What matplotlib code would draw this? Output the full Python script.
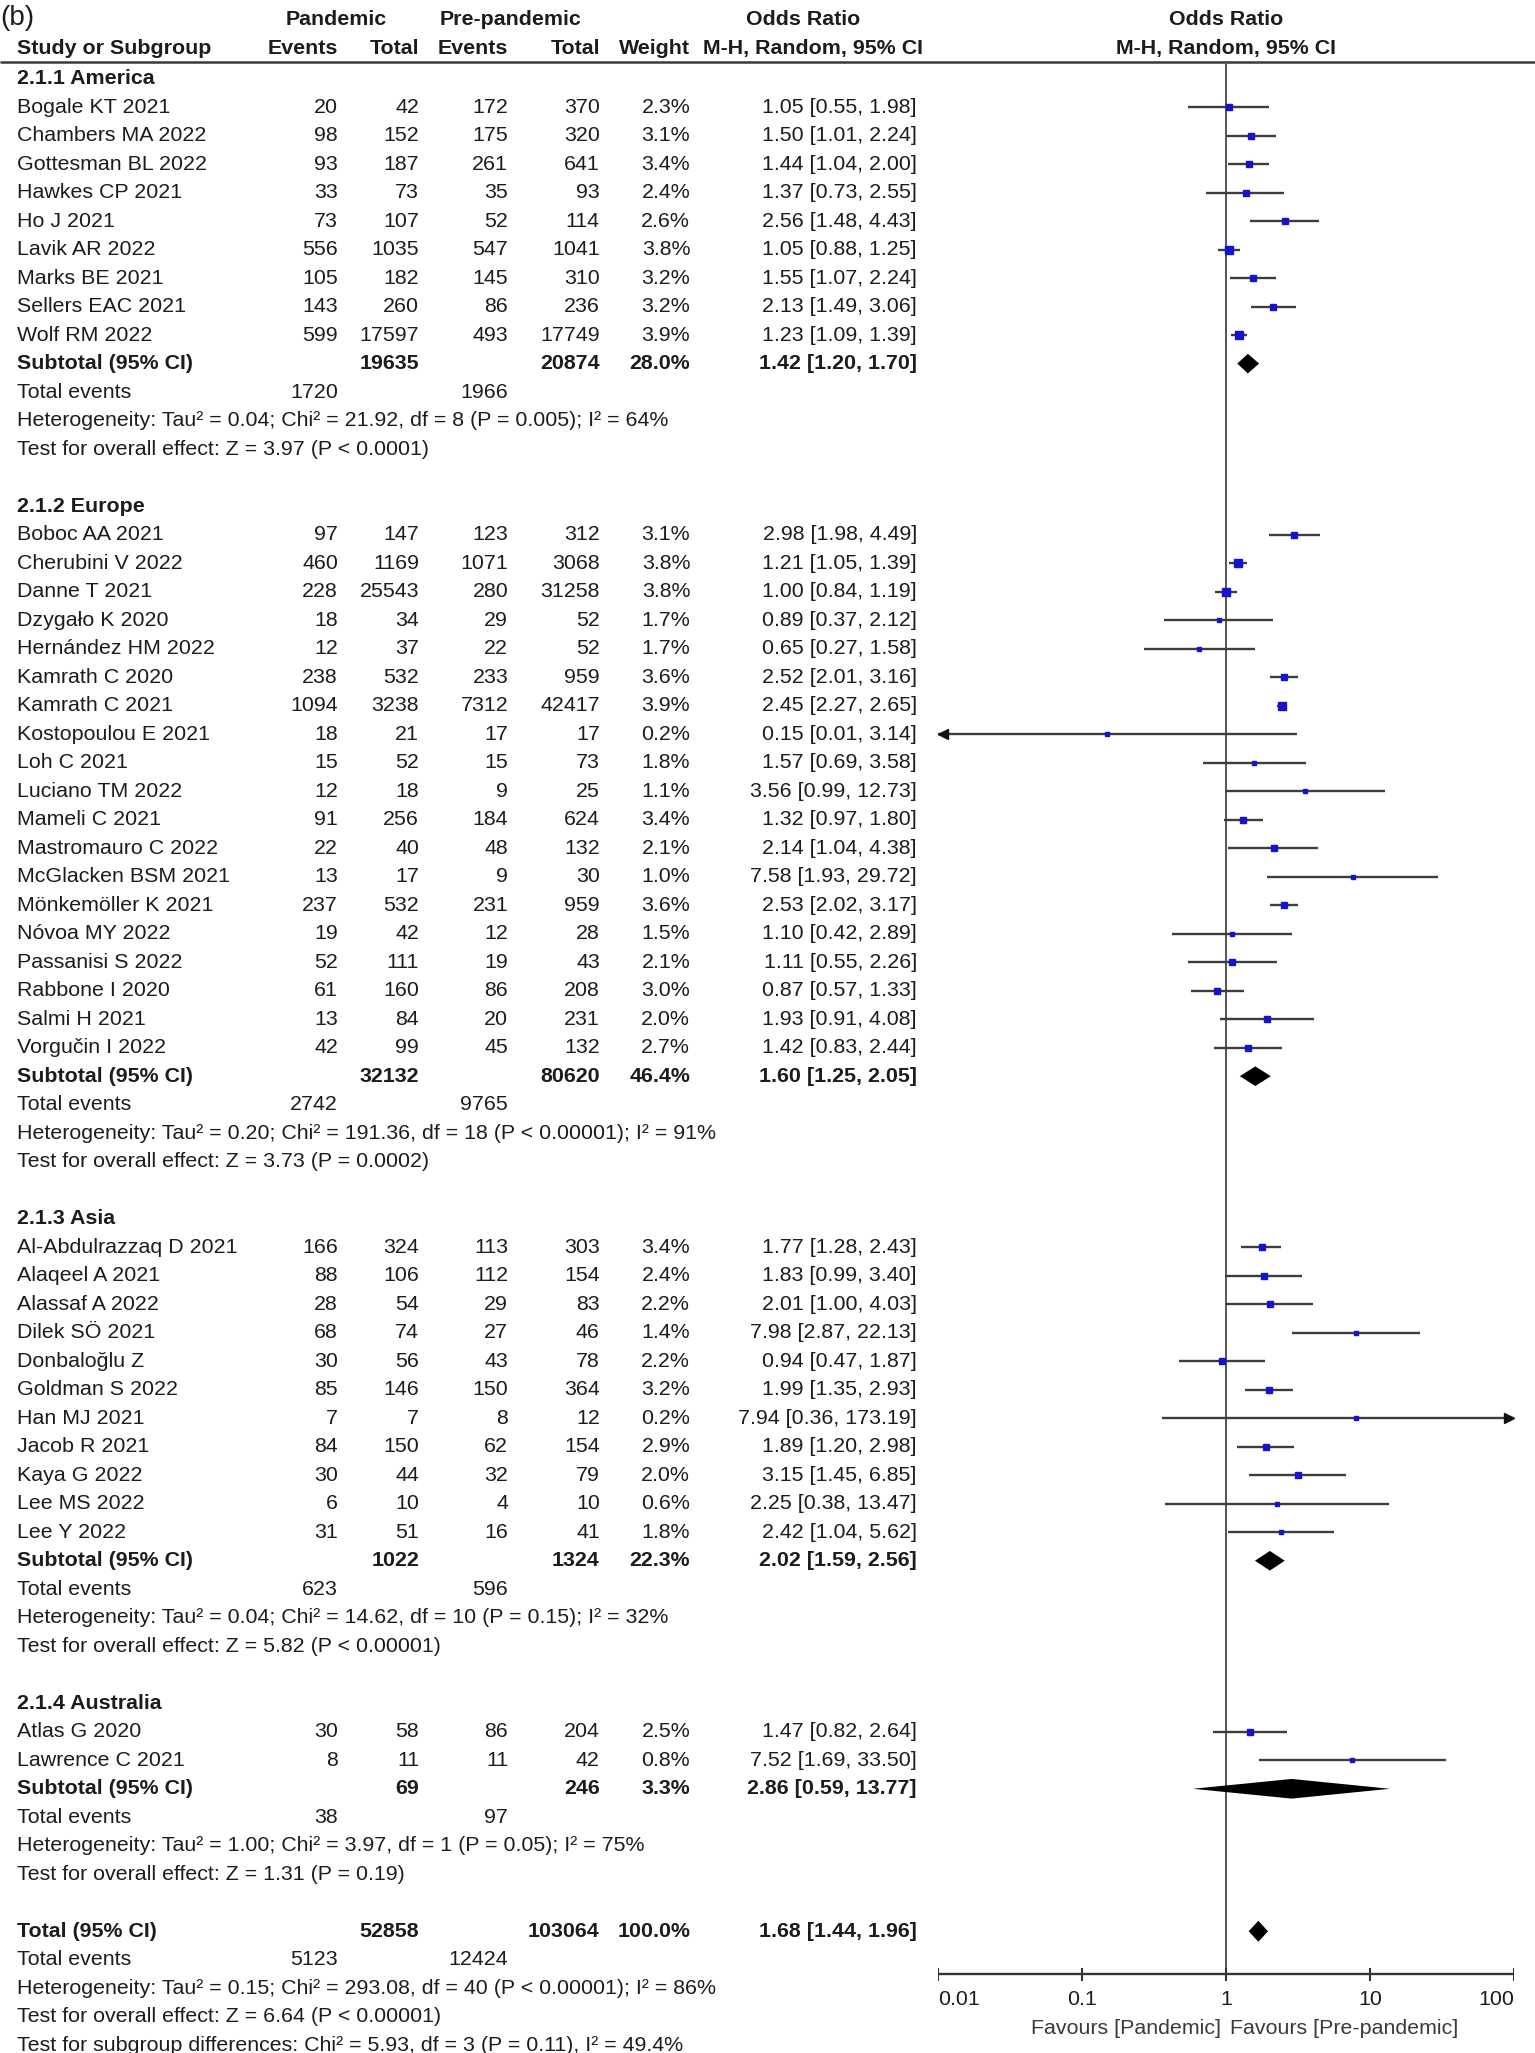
import matplotlib
matplotlib.use("Agg")
import matplotlib.pyplot as plt

# ---------------- data ----------------
america_studies = ["Bogale KT 2021", "Chambers MA 2022", "Gottesman BL 2022", "Hawkes CP 2021", "Ho J 2021",
                   "Lavik AR 2022", "Marks BE 2021", "Sellers EAC 2021", "Wolf RM 2022"]
america_ev_p = [20, 98, 93, 33, 73, 556, 105, 143, 599]
america_tot_p = [42, 152, 187, 73, 107, 1035, 182, 260, 17597]
america_ev_pre = [172, 175, 261, 35, 52, 547, 145, 86, 493]
america_tot_pre = [370, 320, 641, 93, 114, 1041, 310, 236, 17749]
america_weight = [2.3, 3.1, 3.4, 2.4, 2.6, 3.8, 3.2, 3.2, 3.9]
america_or = [1.05, 1.50, 1.44, 1.37, 2.56, 1.05, 1.55, 2.13, 1.23]
america_lo = [0.55, 1.01, 1.04, 0.73, 1.48, 0.88, 1.07, 1.49, 1.09]
america_hi = [1.98, 2.24, 2.00, 2.55, 4.43, 1.25, 2.24, 3.06, 1.39]
america_sub = [19635, 20874, 28.0, 1.42, 1.20, 1.70]
america_events = [1720, 1966]
america_het = "Heterogeneity: Tau² = 0.04; Chi² = 21.92, df = 8 (P = 0.005); I² = 64%"
america_test = "Test for overall effect: Z = 3.97 (P < 0.0001)"

europe_studies = ["Boboc AA 2021", "Cherubini V 2022", "Danne T 2021", "Dzygało K 2020", "Hernández HM 2022",
                  "Kamrath C 2020", "Kamrath C 2021", "Kostopoulou E 2021", "Loh C 2021", "Luciano TM 2022",
                  "Mameli C 2021", "Mastromauro C 2022", "McGlacken BSM 2021", "Mönkemöller K 2021",
                  "Nóvoa MY 2022", "Passanisi S 2022", "Rabbone I 2020", "Salmi H 2021", "Vorgučin I 2022"]
europe_ev_p = [97, 460, 228, 18, 12, 238, 1094, 18, 15, 12, 91, 22, 13, 237, 19, 52, 61, 13, 42]
europe_tot_p = [147, 1169, 25543, 34, 37, 532, 3238, 21, 52, 18, 256, 40, 17, 532, 42, 111, 160, 84, 99]
europe_ev_pre = [123, 1071, 280, 29, 22, 233, 7312, 17, 15, 9, 184, 48, 9, 231, 12, 19, 86, 20, 45]
europe_tot_pre = [312, 3068, 31258, 52, 52, 959, 42417, 17, 73, 25, 624, 132, 30, 959, 28, 43, 208, 231, 132]
europe_weight = [3.1, 3.8, 3.8, 1.7, 1.7, 3.6, 3.9, 0.2, 1.8, 1.1, 3.4, 2.1, 1.0, 3.6, 1.5, 2.1, 3.0, 2.0, 2.7]
europe_or = [2.98, 1.21, 1.00, 0.89, 0.65, 2.52, 2.45, 0.15, 1.57, 3.56, 1.32, 2.14, 7.58, 2.53, 1.10, 1.11,
             0.87, 1.93, 1.42]
europe_lo = [1.98, 1.05, 0.84, 0.37, 0.27, 2.01, 2.27, 0.01, 0.69, 0.99, 0.97, 1.04, 1.93, 2.02, 0.42, 0.55,
             0.57, 0.91, 0.83]
europe_hi = [4.49, 1.39, 1.19, 2.12, 1.58, 3.16, 2.65, 3.14, 3.58, 12.73, 1.80, 4.38, 29.72, 3.17, 2.89, 2.26,
             1.33, 4.08, 2.44]
europe_sub = [32132, 80620, 46.4, 1.60, 1.25, 2.05]
europe_events = [2742, 9765]
europe_het = "Heterogeneity: Tau² = 0.20; Chi² = 191.36, df = 18 (P < 0.00001); I² = 91%"
europe_test = "Test for overall effect: Z = 3.73 (P = 0.0002)"

asia_studies = ["Al-Abdulrazzaq D 2021", "Alaqeel A 2021", "Alassaf A 2022", "Dilek SÖ 2021", "Donbaloğlu Z",
                "Goldman S 2022", "Han MJ 2021", "Jacob R 2021", "Kaya G 2022", "Lee MS 2022", "Lee Y 2022"]
asia_ev_p = [166, 88, 28, 68, 30, 85, 7, 84, 30, 6, 31]
asia_tot_p = [324, 106, 54, 74, 56, 146, 7, 150, 44, 10, 51]
asia_ev_pre = [113, 112, 29, 27, 43, 150, 8, 62, 32, 4, 16]
asia_tot_pre = [303, 154, 83, 46, 78, 364, 12, 154, 79, 10, 41]
asia_weight = [3.4, 2.4, 2.2, 1.4, 2.2, 3.2, 0.2, 2.9, 2.0, 0.6, 1.8]
asia_or = [1.77, 1.83, 2.01, 7.98, 0.94, 1.99, 7.94, 1.89, 3.15, 2.25, 2.42]
asia_lo = [1.28, 0.99, 1.00, 2.87, 0.47, 1.35, 0.36, 1.20, 1.45, 0.38, 1.04]
asia_hi = [2.43, 3.40, 4.03, 22.13, 1.87, 2.93, 173.19, 2.98, 6.85, 13.47, 5.62]
asia_sub = [1022, 1324, 22.3, 2.02, 1.59, 2.56]
asia_events = [623, 596]
asia_het = "Heterogeneity: Tau² = 0.04; Chi² = 14.62, df = 10 (P = 0.15); I² = 32%"
asia_test = "Test for overall effect: Z = 5.82 (P < 0.00001)"

australia_studies = ["Atlas G 2020", "Lawrence C 2021"]
australia_ev_p = [30, 8]
australia_tot_p = [58, 11]
australia_ev_pre = [86, 11]
australia_tot_pre = [204, 42]
australia_weight = [2.5, 0.8]
australia_or = [1.47, 7.52]
australia_lo = [0.82, 1.69]
australia_hi = [2.64, 33.50]
australia_sub = [69, 246, 3.3, 2.86, 0.59, 13.77]
australia_events = [38, 97]
australia_het = "Heterogeneity: Tau² = 1.00; Chi² = 3.97, df = 1 (P = 0.05); I² = 75%"
australia_test = "Test for overall effect: Z = 1.31 (P = 0.19)"

group_titles = ["2.1.1 America", "2.1.2 Europe", "2.1.3 Asia", "2.1.4 Australia"]

total_row = [52858, 103064, 100.0, 1.68, 1.44, 1.96]
total_events = [5123, 12424]
total_het = "Heterogeneity: Tau² = 0.15; Chi² = 293.08, df = 40 (P < 0.00001); I² = 86%"
total_test = "Test for overall effect: Z = 6.64 (P < 0.00001)"
subgroup_test = "Test for subgroup differences: Chi² = 5.93, df = 3 (P = 0.11), I² = 49.4%"

x_ticks = [0.01, 0.1, 1, 10, 100]
x_tick_labels = ["0.01", "0.1", "1", "10", "100"]

# ---------------- layout ----------------
W, H = 1172.0, 1568.0      # working coordinate frame
Y0, DY = 60.0, 21.77
FS = 15.4
TXT = "#1c1c1c"
FONT = "Liberation Sans"

fig = plt.figure(figsize=(15.35, 20.53), dpi=100)
ax = fig.add_axes([0, 0, 1, 1])
ax.set_xlim(0, W)
ax.set_ylim(H, 0)
ax.axis("off")

fx0, fx1 = 716.0, 1156.0
axf = fig.add_axes([fx0 / W, 0, (fx1 - fx0) / W, 1])
axf.set_xscale("log")
axf.set_xlim(0.01, 100)
axf.set_ylim(H, 0)
axf.axis("off")

C_NAME, C_EP, C_TP, C_EPRE, C_TPRE, C_W, C_OR = 13, 258, 320, 388, 458, 527, 700


def t(x, y, s, ha="left", bold=False, size=FS, color=TXT):
    ax.text(x, y, s, ha=ha, va="center", fontsize=size, color=color, family=FONT,
            fontweight="bold" if bold else "normal")


def ytop(i):
    return Y0 + DY * i


# header
t(0, 14, "(b)", size=20)
for x, s in [(257, "Pandemic"), (390, "Pre-pandemic"), (613, "Odds Ratio"), (936, "Odds Ratio")]:
    t(x, 15, s, ha="center", bold=True)
t(C_NAME, 37, "Study or Subgroup", bold=True)
for x, s in [(C_EP, "Events"), (C_TP, "Total"), (C_EPRE, "Events"), (C_TPRE, "Total"), (C_W, "Weight")]:
    t(x, 37, s, ha="right", bold=True)
t(621, 37, "M-H, Random, 95% CI", ha="center", bold=True)
t(936, 37, "M-H, Random, 95% CI", ha="center", bold=True)
ax.plot([0, W], [47.5, 47.5], color="#3a3a3a", lw=1.8, solid_capstyle="butt")

AXIS_Y = 1508.0


def or_text(o, lo, hi):
    return f"{o:.2f} [{lo:.2f}, {hi:.2f}]"


def study_mark(y, o, lo, hi, w):
    a = max(lo, 0.01)
    b = min(hi, 100)
    axf.plot([a, b], [y, y], color="#3d3d3d", lw=1.7, solid_capstyle="butt", zorder=3)
    if lo <= 0.01:
        axf.plot([0.0108], [y], marker="<", ms=6.5, color="#111111", zorder=4)
    if hi >= 100:
        axf.plot([92.5], [y], marker=">", ms=6.5, color="#111111", zorder=4)
    side = (2.2 + 0.85 * w) * 1.31 * 0.72
    axf.plot([o], [y], marker="s", ms=side, color="#1414d0", mec="#1414d0", zorder=5)


def diamond(y, o, lo, hi, h=7.5):
    axf.fill([lo, o, hi, o], [y, y - h, y, y + h], color="black", lw=0, zorder=5)


groups = [
    (america_studies, america_ev_p, america_tot_p, america_ev_pre, america_tot_pre, america_weight,
     america_or, america_lo, america_hi, america_sub, america_events, america_het, america_test),
    (europe_studies, europe_ev_p, europe_tot_p, europe_ev_pre, europe_tot_pre, europe_weight,
     europe_or, europe_lo, europe_hi, europe_sub, europe_events, europe_het, europe_test),
    (asia_studies, asia_ev_p, asia_tot_p, asia_ev_pre, asia_tot_pre, asia_weight,
     asia_or, asia_lo, asia_hi, asia_sub, asia_events, asia_het, asia_test),
    (australia_studies, australia_ev_p, australia_tot_p, australia_ev_pre, australia_tot_pre,
     australia_weight, australia_or, australia_lo, australia_hi, australia_sub, australia_events,
     australia_het, australia_test),
]

row = 0
for title, g in zip(group_titles, groups):
    names, ep, tp, epre, tpre, wt, orv, lov, hiv, sub, ev, het, test = g
    t(C_NAME, ytop(row), title, bold=True)
    row += 1
    for k in range(len(names)):
        y = ytop(row)
        t(C_NAME, y, names[k])
        t(C_EP, y, str(ep[k]), ha="right")
        t(C_TP, y, str(tp[k]), ha="right")
        t(C_EPRE, y, str(epre[k]), ha="right")
        t(C_TPRE, y, str(tpre[k]), ha="right")
        t(C_W, y, f"{wt[k]:.1f}%", ha="right")
        t(C_OR, y, or_text(orv[k], lov[k], hiv[k]), ha="right")
        study_mark(y, orv[k], lov[k], hiv[k], wt[k])
        row += 1
    y = ytop(row)
    t(C_NAME, y, "Subtotal (95% CI)", bold=True)
    t(C_TP, y, str(sub[0]), ha="right", bold=True)
    t(C_TPRE, y, str(sub[1]), ha="right", bold=True)
    t(C_W, y, f"{sub[2]:.1f}%", ha="right", bold=True)
    t(C_OR, y, or_text(sub[3], sub[4], sub[5]), ha="right", bold=True)
    diamond(y, sub[3], sub[4], sub[5])
    row += 1
    y = ytop(row)
    t(C_NAME, y, "Total events")
    t(C_EP, y, str(ev[0]), ha="right")
    t(C_EPRE, y, str(ev[1]), ha="right")
    row += 1
    t(C_NAME, ytop(row), het)
    row += 1
    t(C_NAME, ytop(row), test)
    row += 2

y = ytop(row)
t(C_NAME, y, "Total (95% CI)", bold=True)
t(C_TP, y, str(total_row[0]), ha="right", bold=True)
t(C_TPRE, y, str(total_row[1]), ha="right", bold=True)
t(C_W, y, f"{total_row[2]:.1f}%", ha="right", bold=True)
t(C_OR, y, or_text(total_row[3], total_row[4], total_row[5]), ha="right", bold=True)
diamond(y, total_row[3], total_row[4], total_row[5], h=8)
row += 1
y = ytop(row)
t(C_NAME, y, "Total events")
t(C_EP, y, str(total_events[0]), ha="right")
t(C_EPRE, y, str(total_events[1]), ha="right")
row += 1
for s in [total_het, total_test, subgroup_test]:
    t(C_NAME, ytop(row), s)
    row += 1

# forest axis
axf.plot([1, 1], [47.5, AXIS_Y], color="#555555", lw=1.4, zorder=2)
axf.plot([0.01, 100], [AXIS_Y, AXIS_Y], color="#333333", lw=1.7, solid_capstyle="butt")
for k, (tv, tl) in enumerate(zip(x_ticks, x_tick_labels)):
    axf.plot([tv, tv], [AXIS_Y - 4, AXIS_Y + 4], color="#333333", lw=1.5)
    ha = "left" if k == 0 else ("right" if k == len(x_ticks) - 1 else "center")
    axf.text(tv, AXIS_Y + 19, tl, ha=ha, va="center", fontsize=FS, color=TXT, family=FONT)
axf.text(0.93, AXIS_Y + 41, "Favours [Pandemic]", ha="right", va="center", fontsize=FS, color="#3a3a3a",
         family=FONT)
axf.text(1.07, AXIS_Y + 41, "Favours [Pre-pandemic]", ha="left", va="center", fontsize=FS, color="#3a3a3a",
         family=FONT)

fig.savefig("out.png", dpi=100)
